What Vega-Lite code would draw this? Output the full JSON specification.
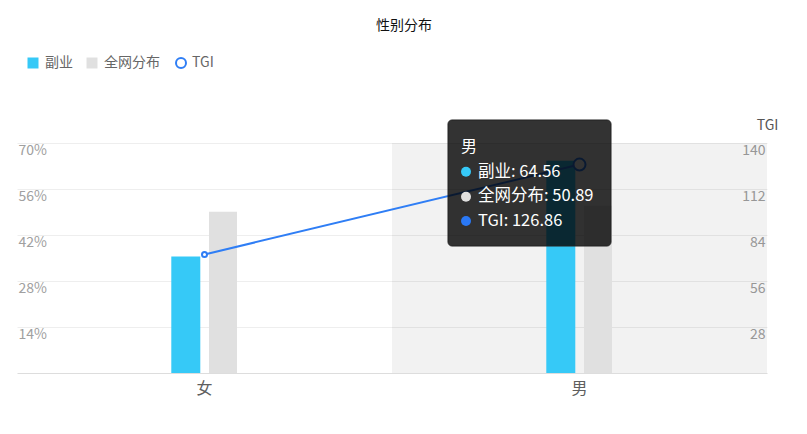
{
  "$schema": "https://vega.github.io/schema/vega-lite/v6.json",
  "description": "性别分布: 副业 vs 全网分布 with TGI",
  "width": 750,
  "height": 230,
  "autosize": "none",
  "padding": {"left": 17, "top": 143, "right": 40, "bottom": 61},
  "background": "white",
  "title": {
    "text": "性别分布",
    "anchor": "middle",
    "frame": "group",
    "dx": 12,
    "offset": 23,
    "fontSize": 14,
    "fontWeight": "normal",
    "color": "#111111"
  },
  "config": {
    "font": "Noto Sans CJK SC",
    "view": {"stroke": null}
  },
  "datasets": {
    "gender": [
      {"sex": "女", "副业": 35.44, "全网分布": 49.11, "TGI": 72.16},
      {"sex": "男", "副业": 64.56, "全网分布": 50.89, "TGI": 126.86}
    ]
  },
  "data": {"name": "gender"},
  "encoding": {
    "x": {
      "field": "sex",
      "type": "nominal",
      "sort": ["女", "男"],
      "scale": {"paddingInner": 0, "paddingOuter": 0},
      "axis": {
        "title": null,
        "labelAngle": 0,
        "domainColor": "#dddddd",
        "ticks": false,
        "tickSize": 0,
        "labelFontSize": 16,
        "labelColor": "#5f5f5f",
        "labelPadding": 7
      }
    }
  },
  "layer": [
    {
      "transform": [{"filter": "datum.sex === '男'"}],
      "mark": {"type": "rect", "fill": "#000000", "opacity": 0.05},
      "encoding": {}
    },
    {
      "encoding": {
        "y": {
          "field": "value",
          "type": "quantitative",
          "scale": {"domain": [0, 70]},
          "axis": {
            "orient": "left",
            "title": null,
            "values": [14, 28, 42, 56, 70],
            "labelExpr": "datum.value + '%'",
            "domain": false,
            "ticks": false,
            "tickSize": 0,
            "grid": true,
            "gridColor": "#eeeeee",
            "labelAlign": "left",
            "labelBaseline": "top",
            "labelPadding": -1,
            "labelColor": "#a0a0a0",
            "labelFontSize": 14
          }
        },
        "color": {
          "field": "series",
          "type": "nominal",
          "scale": {
            "domain": ["副业", "全网分布"],
            "range": ["#36c9f7", "#e0e0e0"]
          },
          "legend": {
            "title": null,
            "orient": "none",
            "legendX": 9,
            "legendY": -87,
            "direction": "horizontal",
            "padding": 0,
            "symbolType": "square",
            "symbolSize": 121,
            "labelFontSize": 14,
            "labelColor": "#666666",
            "labelOffset": 5,
            "columnPadding": 12
          }
        }
      },
      "layer": [
        {
          "transform": [{"fold": ["副业"], "as": ["series", "value"]}],
          "mark": {"type": "bar", "width": 29, "xOffset": -18.7}
        },
        {
          "transform": [{"fold": ["全网分布"], "as": ["series", "value"]}],
          "mark": {"type": "bar", "width": 28, "xOffset": 18.5}
        }
      ]
    },
    {
      "layer": [
        {
          "mark": {"type": "line", "color": "#2f7ef5", "strokeWidth": 2},
          "encoding": {
            "y": {
              "field": "TGI",
              "type": "quantitative",
              "scale": {"domain": [0, 140]},
              "axis": {
                "orient": "right",
                "title": "TGI",
                "titleAngle": 0,
                "titleX": 0,
                "titleY": -18,
                "titleAlign": "center",
                "titleBaseline": "middle",
                "titleColor": "#555555",
                "titleFontSize": 14,
                "titleFontWeight": "normal",
                "values": [28, 56, 84, 112, 140],
                "domain": false,
                "ticks": false,
                "tickSize": 0,
                "grid": false,
                "labelAlign": "right",
                "labelBaseline": "top",
                "labelPadding": -2,
                "labelColor": "#a0a0a0",
                "labelFontSize": 14
              }
            }
          }
        },
        {
          "transform": [{"fold": ["TGI"], "as": ["series", "tgi_value"]}],
          "mark": {"type": "point", "filled": true, "fill": "#ffffff", "strokeWidth": 2, "opacity": 1},
          "encoding": {
            "y": {"field": "TGI", "type": "quantitative"},
            "stroke": {
              "field": "series",
              "type": "nominal",
              "scale": {"domain": ["TGI"], "range": ["#2f7ef5"]},
              "legend": {
                "title": null,
                "orient": "none",
                "legendX": 157,
                "legendY": -87,
                "direction": "horizontal",
                "padding": 0,
                "symbolType": "circle",
                "symbolSize": 100,
                "symbolFillColor": "#ffffff",
                "symbolStrokeWidth": 2,
                "labelFontSize": 14,
                "labelColor": "#666666",
                "labelOffset": 4
              }
            },
            "size": {"condition": {"test": "datum.sex === '男'", "value": 144}, "value": 25}
          }
        },
        {
          "transform": [{"filter": "datum.sex === '男'"}],
          "mark": {"type": "rect", "width": 163, "xOffset": -50, "fill": "#000000", "fillOpacity": 0.8, "stroke": "#222222", "strokeWidth": 1, "cornerRadius": 4},
          "encoding": {
            "y": {"datum": 154, "type": "quantitative"},
            "y2": {"datum": 77.3}
          }
        },
        {
          "transform": [{"filter": "datum.sex === '男'"}],
          "mark": {"type": "point", "filled": true, "color": "#36c9f7", "size": 100, "opacity": 1, "xOffset": -113.5, "yOffset": 28.7},
          "encoding": {"y": {"datum": 140, "type": "quantitative"}}
        },
        {
          "transform": [{"filter": "datum.sex === '男'"}],
          "mark": {"type": "point", "filled": true, "color": "#e0e0e0", "size": 100, "opacity": 1, "xOffset": -113.5, "yOffset": 53.7},
          "encoding": {"y": {"datum": 140, "type": "quantitative"}}
        },
        {
          "transform": [{"filter": "datum.sex === '男'"}],
          "mark": {"type": "point", "filled": true, "color": "#2a78f5", "size": 100, "opacity": 1, "xOffset": -113.5, "yOffset": 78},
          "encoding": {"y": {"datum": 140, "type": "quantitative"}}
        },
        {
          "transform": [{"filter": "datum.sex === '男'"}],
          "mark": {"type": "text", "align": "left", "baseline": "middle", "xOffset": -118.5, "yOffset": 4, "fontSize": 16, "color": "#ffffff"},
          "encoding": {
            "y": {"datum": 140, "type": "quantitative"},
            "text": {"field": "sex", "type": "nominal"}
          }
        },
        {
          "transform": [{"filter": "datum.sex === '男'"}],
          "mark": {
            "type": "text",
            "align": "left",
            "baseline": "middle",
            "xOffset": -101.5,
            "yOffset": 28.7,
            "fontSize": 16.5,
            "lineHeight": 24.6,
            "color": "#ffffff",
            "text": {"expr": "['副业: ' + datum['副业'], '全网分布: ' + datum['全网分布'], 'TGI: ' + datum['TGI']]"}
          },
          "encoding": {"y": {"datum": 140, "type": "quantitative"}}
        }
      ]
    }
  ],
  "resolve": {"scale": {"y": "independent"}}
}
